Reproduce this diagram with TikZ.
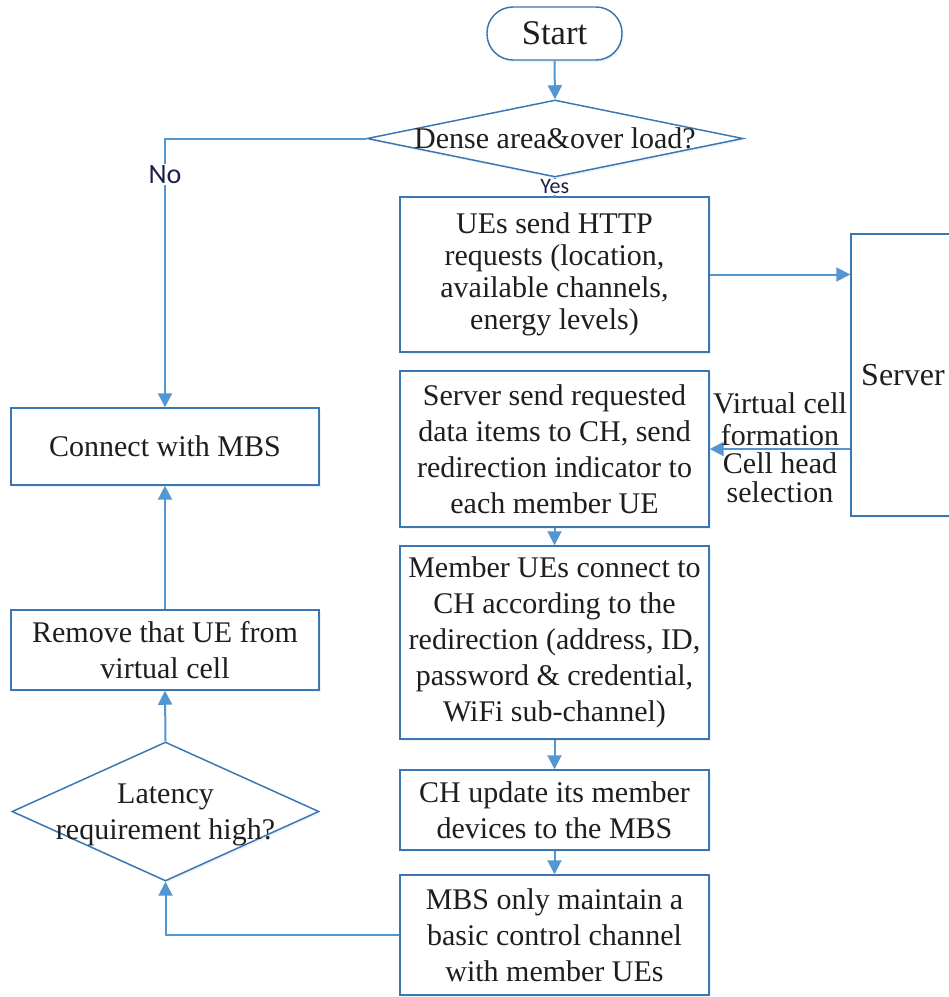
\documentclass[tikz,border=0pt]{standalone}
\usepackage{fontspec}
\setmainfont{Liberation Serif}
\newfontfamily\lblfont{Carlito}
\usetikzlibrary{arrows.meta,shapes.geometric,shadows}
\definecolor{boxcol}{RGB}{58,118,178}
\definecolor{arrcol}{RGB}{82,150,210}
\definecolor{txtcol}{RGB}{30,30,30}
\definecolor{lblcol}{RGB}{28,32,72}
\tikzset{
  shbox/.style={drop shadow={opacity=0.18, shadow xshift=1.2pt, shadow yshift=-1.5pt, fill=boxcol!50}},
  box/.style={draw=boxcol, line width=1.1pt, fill=white, inner sep=0pt, align=center,
    font=\fontsize{22.5}{27}\selectfont, text=txtcol, shbox},
  dia/.style={diamond, draw=boxcol, line width=1.1pt, fill=white, inner sep=0pt, shbox},
  txt/.style={align=center, inner sep=0pt, font=\fontsize{22.5}{27}\selectfont, text=txtcol},
  arr/.style={draw=arrcol, line width=1.5pt, -{Triangle[length=10.5pt,width=10.5pt]}},
  plain/.style={draw=arrcol, line width=1.5pt},
  lbl/.style={font=\lblfont, text=lblcol, fill=white, inner sep=1pt}
}
\begin{document}
\begin{tikzpicture}[x=0.75pt,y=-0.75pt]
\clip (0,0) rectangle (949,997);
\fill[white] (0,0) rectangle (949,997);

% nodes
\node[box, rounded corners=19.5pt, minimum width=101.25pt, minimum height=39.75pt, font=\fontsize{26}{28}\selectfont] (start) at (554.5,33.5) {Start};
\node[dia, minimum width=282pt, minimum height=57.75pt] (d1) at (555,138.5) {};
\node[txt] at (d1) {Dense area\&over load?};

\node[box, minimum width=231.75pt, minimum height=116.25pt, font=\fontsize{22.5}{24}\selectfont] (ues) at (554.5,274.5)
  {UEs send HTTP\\requests (location,\\available channels,\\energy levels)};
\node[box, minimum width=78pt, minimum height=211.5pt, font=\fontsize{24}{26}\selectfont] (srv) at (903,375) {Server};
\node[box, minimum width=231.75pt, minimum height=117pt] (send) at (554.5,449)
  {Server send requested\\data items to CH, send\\redirection indicator to\\each member UE};
\node[box, minimum width=231.75pt, minimum height=144.75pt] (mem) at (554.5,642.5)
  {Member UEs connect to\\CH according to the\\redirection (address, ID,\\password \& credential,\\WiFi sub-channel)};
\node[box, minimum width=231.75pt, minimum height=60pt] (ch) at (554.5,810)
  {CH update its member\\devices to the MBS};
\node[box, minimum width=231.75pt, minimum height=90pt] (mbs) at (554.5,935)
  {MBS only maintain a\\basic control channel\\with member UEs};

\node[box, minimum width=231pt, minimum height=57.75pt] (conn) at (165,446.5) {Connect with MBS};
\node[box, minimum width=231pt, minimum height=60pt] (rem) at (165,650) {Remove that UE from\\virtual cell};
\node[dia, minimum width=230.25pt, minimum height=104.25pt] (lat) at (165.5,811.5) {};
\node[txt] at (165.5,815) {Latency\\requirement high?};

% connectors
\draw[arr] (start.south) -- (d1.north);
\draw[arr] (d1.west) -| node[lbl, pos=0.567, font=\lblfont\fontsize{21}{24}\selectfont] {No} (conn.north);
\draw[plain] (d1.south) -- node[lbl, font=\lblfont\fontsize{16.5}{18}\selectfont] {Yes} (ues.north);
\draw[arr] (ues.east) -- (ues.east -| srv.west);
\draw[arr] (srv.west |- send.east) -- (send.east)
  node[midway, above, txt, font=\fontsize{22.5}{24}\selectfont, yshift=2pt] {Virtual cell\\formation}
  node[midway, below, txt, font=\fontsize{22.5}{22}\selectfont, yshift=-2pt] {Cell head\\selection};
\draw[arr] (send.south) -- (mem.north);
\draw[arr] (mem.south) -- (ch.north);
\draw[arr] (ch.south) -- (mbs.north);
\draw[arr] (mbs.west) -| (lat.south);
\draw[arr] (lat.north) -- (rem.south);
\draw[arr] (rem.north) -- (conn.south);
\end{tikzpicture}
\end{document}
